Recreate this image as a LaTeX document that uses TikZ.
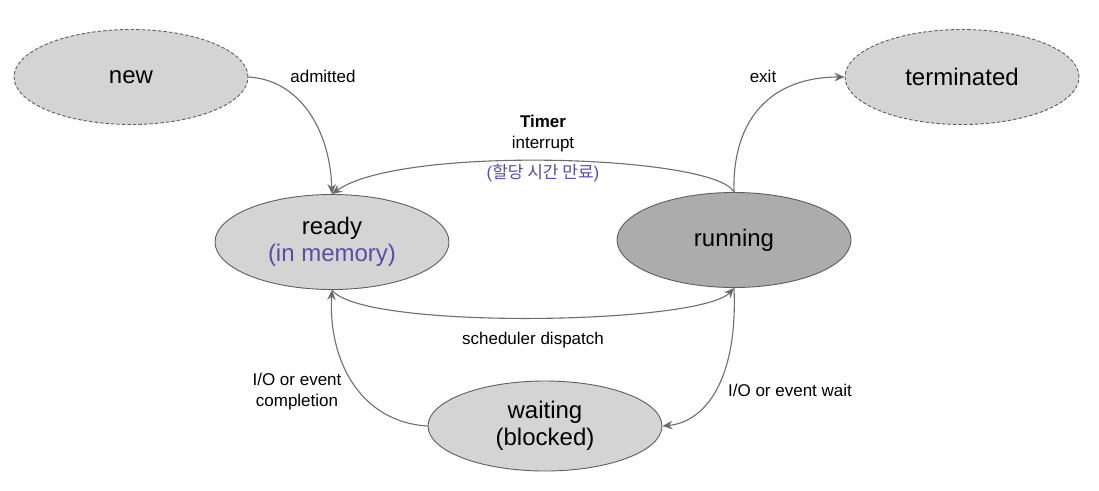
\documentclass[tikz,border=0pt]{standalone}
\usepackage{fontspec}
\setmainfont{Liberation Sans}
\newfontfamily\krfont{Noto Sans CJK KR}
\usetikzlibrary{shapes.geometric,arrows.meta}
\definecolor{lightfill}{HTML}{D4D4D4}
\definecolor{darkfill}{HTML}{ACACAC}
\definecolor{edgegray}{HTML}{5E5E5E}
\definecolor{linegray}{HTML}{6E6E6E}
\definecolor{notecol}{HTML}{5A4DA6}
\tikzset{
  state/.style={ellipse, draw=edgegray, line width=0.9pt, fill=lightfill,
    minimum width=234pt, minimum height=95pt, inner sep=0pt, align=center,
    font=\fontsize{24}{29}\selectfont},
  endstate/.style={state, dashed, dash pattern=on 3.5pt off 2pt},
  flow/.style={draw=linegray, line width=1.1pt,
    -{Stealth[length=10pt,width=8.5pt,fill=edgegray]}},
  lbl/.style={font=\fontsize{17}{21}\selectfont, align=center, inner sep=0pt},
}
\begin{document}
\begin{tikzpicture}[x=1pt,y=-1pt]
\useasboundingbox (0,0) rectangle (1099,490);
\fill[white] (0,0) rectangle (1099,490);

\node[endstate] (new) at (131,77) {\raisebox{-2pt}{new}};
\node[endstate] (terminated) at (962,77) {\raisebox{-2pt}{terminated}};
\node[state] (ready) at (332,242) {\raisebox{-2pt}{ready}\\\textcolor{notecol}{(in memory)}};
\node[state, fill=darkfill] (running) at (734,240) {\raisebox{-2pt}{running}};
\node[state, minimum height=90pt] (waiting) at (545,426) {\raisebox{-2pt}{waiting}\\(blocked)};

\draw[flow] (new.east) .. controls (300,80) and (330,130) .. (ready.north);
\draw[flow] (running.north) .. controls (715,155) and (400,145) .. (ready.north);
\draw[flow] (running.north) .. controls (732,118) and (772,77) .. (terminated.west);
\draw[flow] (ready.south) .. controls (360,330) and (700,325) .. (running.south);
\draw[flow] (running.south) .. controls (738,380) and (705,422) .. (waiting.east);
\draw[flow] (waiting.west) .. controls (360,422) and (328,360) .. (ready.south);

\node[lbl] (ladmit) at (323,76) {admitted};
\node[lbl] (ltimer) at (543,134) {\textbf{Timer}\\interrupt};
\node[lbl, text=notecol] (lexpire) at (543,173) {(\krfont 할당 시간 만료\normalfont)};
\node[lbl] (lexit) at (763,76) {exit};
\node[lbl] (ldispatch) at (533,340) {scheduler dispatch};
\node[lbl] (lwait) at (790,390) {I/O or event wait};
\node[lbl] (ldone) at (297,392) {I/O or event\\completion};
\end{tikzpicture}
\end{document}
